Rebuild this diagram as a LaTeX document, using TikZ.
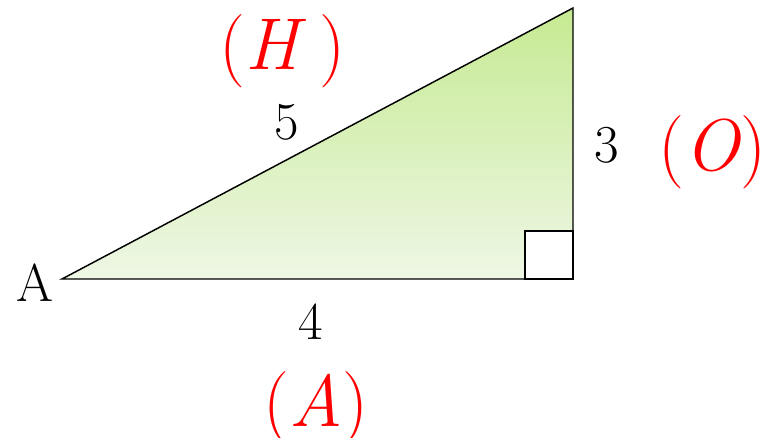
\documentclass[tikz,border=0pt]{standalone}
\begin{document}
\begin{tikzpicture}[x=0.75pt,y=-0.75pt,
  lbl/.style={inner sep=0pt,anchor=base,font=\fontsize{40}{48}\selectfont},
  redlbl/.style={inner sep=0pt,anchor=base,text=red,font=\fontsize{55}{66}\selectfont},
  side/.style={line width=1.1pt,line join=miter},
  rightmark/.style={line width=2pt,fill=white}]
\useasboundingbox (0,0) rectangle (772,438);
\coordinate (A) at (62,279);
\coordinate (C) at (573,279);
\coordinate (B) at (573,8);
\shade[top color={rgb,255:red,198;green,234;blue,146}, bottom color={rgb,255:red,238;green,247;blue,229}] (A) -- (C) -- (B) -- cycle;
\draw[side] (A) -- (C) -- (B) -- cycle;
\draw[rightmark] (525,231) rectangle (C);
\node[lbl] (la) at (34.5,302) {A};
\node[lbl] (l5) at (287,140) {5};
\node[lbl] (l3) at (606.5,163) {3};
\node[lbl] (l4) at (310.5,340) {4};
\node[redlbl] (rh) at (282.5,70) {(\textit{H}\,)};
\node[redlbl] (ro) at (712.5,171) {(\textit{O})};
\node[redlbl] (ra) at (316,427) {(\textit{A})};
\end{tikzpicture}
\end{document}
